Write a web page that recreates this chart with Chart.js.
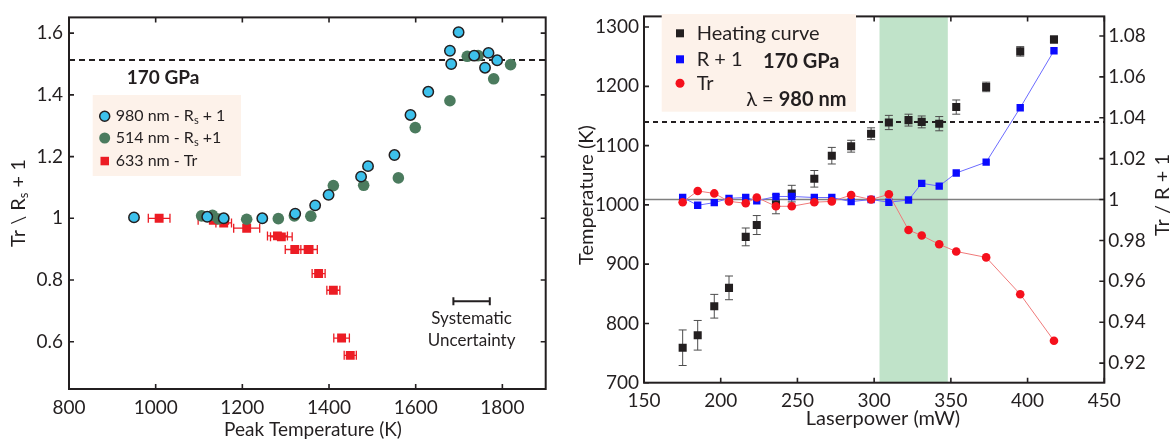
<!DOCTYPE html>
<html>
<head>
<meta charset="utf-8">
<script src="https://cdn.jsdelivr.net/npm/chart.js@4.4.0/dist/chart.umd.min.js"></script>
<style>
  body { margin: 0; background: #fff; width: 1175px; height: 444px; overflow: hidden; position: relative; }
  #left { position: absolute; left: 0; top: 0; }
  #right { position: absolute; left: 560px; top: 0; }
</style>
</head>
<body>
<canvas id="left" width="560" height="444" style="width:560px;height:444px"></canvas>
<canvas id="right" width="615" height="444" style="width:615px;height:444px"></canvas>
<script>
const FONT = "Lato, 'Liberation Sans', sans-serif";
const INK = '#231f20';
Chart.defaults.font.family = FONT;
Chart.defaults.color = INK;

// ---- left panel: reflectance / transmission vs peak temperature ----
const blueT = [950, 1119, 1157, 1246, 1322, 1368, 1399, 1474, 1490, 1551, 1588, 1629, 1679, 1682, 1699, 1735, 1760, 1768, 1788];
const blueV = [1.003, 1.005, 1.0, 1.0, 1.015, 1.042, 1.076, 1.135, 1.169, 1.205, 1.335, 1.410, 1.543, 1.500, 1.603, 1.527, 1.488, 1.536, 1.512];
const greenT = [1106, 1131, 1145, 1210, 1283, 1320, 1358, 1410, 1480, 1560, 1599, 1679, 1719, 1744, 1780, 1819];
const greenV = [1.008, 1.010, 0.998, 0.997, 0.999, 1.008, 1.007, 1.106, 1.107, 1.131, 1.294, 1.381, 1.525, 1.527, 1.452, 1.498];
const redT = [1008, 1133, 1157, 1210, 1281, 1290, 1321, 1354, 1376, 1410, 1429, 1449];
const redV = [1.0, 0.994, 0.985, 0.968, 0.943, 0.940, 0.899, 0.899, 0.821, 0.767, 0.612, 0.556];
const redErr = [25, 35, 18, 30, 23, 25, 22, 19, 15, 15, 18, 14];
const leftXTicks = [800, 1000, 1200, 1400, 1600, 1800];
const leftYTicks = [0.6, 0.8, 1, 1.2, 1.4, 1.6];
const plateau = 1.513;
const sysBar = [1687, 1771];
const sysBarY = 0.731;

// ---- right panel: heating curve vs laser power ----
const power = [175.2, 185, 195.8, 205.4, 216.3, 223.5, 236, 246.3, 261, 272.4, 285, 298, 309.6, 322.4, 331, 342.4, 353.5, 373, 395.2, 417.2];
const heat = [759, 780, 829, 860, 946, 966, 1001, 1019, 1044, 1083, 1099, 1120, 1139, 1143, 1140, 1137, 1165, 1199, 1259, 1279];
const heatErr = [30, 25, 20, 20, 15, 16, 16, 14, 14, 14, 10, 10, 12, 10, 10, 12, 12, 8, 8, 6];
const rPlus = [1.001, 0.9972, 0.9985, 1.0006, 1.001, 0.9994, 1.0015, 1.0015, 1.001, 1.001, 0.999, 1.0, 0.9987, 0.9998, 1.0079, 1.0066, 1.013, 1.0183, 1.0449, 1.0728];
const tr = [0.9987, 1.0042, 1.003, 0.9991, 0.9982, 1.001, 0.9967, 0.9967, 0.9987, 0.9991, 1.0022, 1.0, 1.0026, 0.9851, 0.9824, 0.9781, 0.9746, 0.9717, 0.9537, 0.9309];
const rightXTicks = [150, 200, 250, 300, 350, 400, 450];
const tempTicks = [700, 800, 900, 1000, 1100, 1200, 1300];
const ratioTicks = [0.92, 0.94, 0.96, 0.98, 1, 1.02, 1.04, 1.06, 1.08];
const meltT = 1140;
const band = [303.5, 348];

const CYAN = '#3dc1ec', GREEN = '#4b7b5e', RED = '#ec1c24';
const BLUE = '#0a0aff', BLUE_LINE = '#6b6bff', TR_RED = '#f5101c', TR_LINE = '#f07a7a';
const PEACH = '#fdf2ea';

function pts(xs, ys) { return xs.map((x, i) => ({ x: x, y: ys[i] })); }

function txt(ctx, s, x, y, font, align) {
  ctx.font = font;
  ctx.textAlign = align || 'center';
  ctx.textBaseline = 'middle';
  ctx.fillText(s, x, y);
}

// draws a run of text pieces (for subscripts / mixed weights), centred on x
function runs(ctx, parts, x, y, rotate) {
  ctx.save();
  ctx.translate(x, y);
  if (rotate) ctx.rotate(-Math.PI / 2);
  ctx.textBaseline = 'middle';
  ctx.textAlign = 'left';
  let w = 0;
  parts.forEach(p => { ctx.font = p.f; w += ctx.measureText(p.t).width; });
  let cx = -w / 2;
  parts.forEach(p => { ctx.font = p.f; ctx.fillText(p.t, cx, p.dy || 0); cx += ctx.measureText(p.t).width; });
  ctx.restore();
}

function drawFrame(chart, sides) {
  const { ctx, chartArea: a } = chart;
  const L = 5;
  ctx.save();
  ctx.strokeStyle = INK;
  ctx.lineWidth = 2;
  ctx.strokeRect(a.left, a.top, a.right - a.left, a.bottom - a.top);
  ctx.lineWidth = 1.6;
  ctx.beginPath();
  const x = chart.scales.x;
  x.ticks.forEach(t => {
    const p = x.getPixelForValue(t.value);
    ctx.moveTo(p, a.bottom); ctx.lineTo(p, a.bottom - L);
    ctx.moveTo(p, a.top); ctx.lineTo(p, a.top + L);
  });
  sides.forEach(([id, left, right]) => {
    const s = chart.scales[id];
    s.ticks.forEach(t => {
      const p = s.getPixelForValue(t.value);
      if (left) { ctx.moveTo(a.left, p); ctx.lineTo(a.left + L, p); }
      if (right) { ctx.moveTo(a.right, p); ctx.lineTo(a.right - L, p); }
    });
  });
  ctx.stroke();
  ctx.restore();
}

const leftDeco = {
  id: 'leftDeco',
  beforeDatasetsDraw(chart) {
    const { ctx, chartArea: a, scales: { x, y } } = chart;
    ctx.save();
    ctx.strokeStyle = INK;
    ctx.lineWidth = 2;
    ctx.setLineDash([6, 4]);
    const yp = y.getPixelForValue(plateau);
    ctx.beginPath(); ctx.moveTo(a.left, yp); ctx.lineTo(a.right, yp); ctx.stroke();
    ctx.setLineDash([]);
    // x error bars on the 633 nm points
    ctx.strokeStyle = RED;
    ctx.lineWidth = 1.3;
    ctx.beginPath();
    redT.forEach((t, i) => {
      const x0 = x.getPixelForValue(t - redErr[i]), x1 = x.getPixelForValue(t + redErr[i]);
      const yy = y.getPixelForValue(redV[i]);
      ctx.moveTo(x0, yy); ctx.lineTo(x1, yy);
      ctx.moveTo(x0, yy - 4.5); ctx.lineTo(x0, yy + 4.5);
      ctx.moveTo(x1, yy - 4.5); ctx.lineTo(x1, yy + 4.5);
    });
    ctx.stroke();
    ctx.restore();
  },
  afterDraw(chart) {
    const { ctx, scales: { x, y } } = chart;
    drawFrame(chart, [['y', true, true]]);
    ctx.save();
    ctx.fillStyle = INK;
    // systematic uncertainty bar
    const sx0 = x.getPixelForValue(sysBar[0]), sx1 = x.getPixelForValue(sysBar[1]), sy = y.getPixelForValue(sysBarY);
    ctx.strokeStyle = INK; ctx.lineWidth = 2;
    ctx.beginPath();
    ctx.moveTo(sx0, sy); ctx.lineTo(sx1, sy);
    ctx.moveTo(sx0, sy - 4); ctx.lineTo(sx0, sy + 4);
    ctx.moveTo(sx1, sy - 4); ctx.lineTo(sx1, sy + 4);
    ctx.stroke();
    txt(ctx, 'Systematic', (sx0 + sx1) / 2, sy + 17, '17px ' + FONT);
    txt(ctx, 'Uncertainty', (sx0 + sx1) / 2, sy + 39, '17px ' + FONT);
    txt(ctx, '170 GPa', 163, 77.5, 'bold 19px ' + FONT);
    // legend
    ctx.fillStyle = PEACH;
    ctx.fillRect(92.7, 95, 148.3, 81);
    ctx.fillStyle = CYAN; ctx.strokeStyle = INK; ctx.lineWidth = 1.5;
    ctx.beginPath(); ctx.arc(104.7, 116.3, 5, 0, Math.PI * 2); ctx.fill(); ctx.stroke();
    ctx.fillStyle = GREEN;
    ctx.beginPath(); ctx.arc(104.7, 138, 5.5, 0, Math.PI * 2); ctx.fill();
    ctx.fillStyle = RED;
    ctx.fillRect(100.5, 156.8, 8.5, 8.5);
    ctx.fillStyle = INK;
    const f = '16px ' + FONT, fs = '11px ' + FONT;
    ctx.textAlign = 'left'; ctx.textBaseline = 'middle';
    [[['980 nm - R', f], ['s', fs, 4], [' + 1', f]], [['514 nm - R', f], ['s', fs, 4], [' +1', f]], [['633 nm - Tr', f]]]
      .forEach((parts, i) => {
        let cx = 115.7;
        const cy = [116.3, 138, 161][i];
        parts.forEach(([t, ff, dy]) => { ctx.font = ff; ctx.fillText(t, cx, cy + (dy || 0)); cx += ctx.measureText(t).width; });
      });
    // axis titles
    txt(ctx, 'Peak Temperature (K)', 313, 430, '19px ' + FONT);
    runs(ctx, [{ t: 'Tr \\ R', f: '20px ' + FONT }, { t: 's', f: '13px ' + FONT, dy: 5 }, { t: ' + 1', f: '20px ' + FONT }], 19, 203, true);
    ctx.restore();
  }
};

const rightDeco = {
  id: 'rightDeco',
  beforeDatasetsDraw(chart) {
    const { ctx, chartArea: a, scales: { x, y, y2 } } = chart;
    ctx.save();
    // shaded power window
    const b0 = x.getPixelForValue(band[0]), b1 = x.getPixelForValue(band[1]);
    ctx.fillStyle = '#c0e3c9';
    ctx.fillRect(b0, a.top, b1 - b0, a.bottom - a.top);
    // unity reference line
    const u = y2.getPixelForValue(1);
    ctx.strokeStyle = '#7f7f7f'; ctx.lineWidth = 1.5;
    ctx.beginPath(); ctx.moveTo(a.left, u); ctx.lineTo(a.right, u); ctx.stroke();
    // plateau temperature
    const m = y.getPixelForValue(meltT);
    ctx.strokeStyle = INK; ctx.lineWidth = 2; ctx.setLineDash([5, 4]);
    ctx.beginPath(); ctx.moveTo(a.left, m); ctx.lineTo(a.right, m); ctx.stroke();
    ctx.setLineDash([]);
    // error bars on the heating curve
    ctx.strokeStyle = '#4d4d4d'; ctx.lineWidth = 1;
    ctx.beginPath();
    power.forEach((p, i) => {
      const px = x.getPixelForValue(p);
      const lo = y.getPixelForValue(heat[i] - heatErr[i]), hi = y.getPixelForValue(heat[i] + heatErr[i]);
      ctx.moveTo(px, lo); ctx.lineTo(px, hi);
      ctx.moveTo(px - 4, lo); ctx.lineTo(px + 4, lo);
      ctx.moveTo(px - 4, hi); ctx.lineTo(px + 4, hi);
    });
    ctx.stroke();
    ctx.restore();
  },
  afterDraw(chart) {
    const { ctx } = chart;
    drawFrame(chart, [['y', true, false], ['y2', false, true]]);
    ctx.save();
    // legend
    ctx.fillStyle = PEACH;
    ctx.fillRect(101.7, 14, 194.3, 97.7);
    ctx.fillStyle = INK;
    ctx.fillRect(116, 29.3, 8, 8);
    ctx.fillStyle = BLUE;
    ctx.fillRect(116, 55.3, 8, 8);
    ctx.fillStyle = TR_RED;
    ctx.beginPath(); ctx.arc(120, 83.3, 4.5, 0, Math.PI * 2); ctx.fill();
    ctx.fillStyle = INK;
    txt(ctx, 'Heating curve', 136.7, 33.3, '20px ' + FONT, 'left');
    txt(ctx, 'R + 1', 136.7, 59.3, '20px ' + FONT, 'left');
    txt(ctx, 'Tr', 136.7, 83.3, '20px ' + FONT, 'left');
    txt(ctx, '170 GPa', 241.3, 61.7, 'bold 20px ' + FONT);
    runs(ctx, [{ t: '\u03bb = ', f: '20px ' + FONT }, { t: '980 nm', f: 'bold 20px ' + FONT }], 236.3, 100);
    // axis titles
    txt(ctx, 'Laserpower (mW)', 323, 419, '20px ' + FONT);
    runs(ctx, [{ t: 'Temperature (K)', f: '20px ' + FONT }], 27, 195, true);
    runs(ctx, [{ t: 'Tr / R + 1', f: '20px ' + FONT }], 603, 195, true);
    ctx.restore();
  }
};

function axis(ticks, min, max, pad, extra) {
  return Object.assign({
    type: 'linear', min: min, max: max,
    grid: { display: false, drawTicks: false },
    border: { display: false },
    afterBuildTicks: s => { s.ticks = ticks.map(v => ({ value: v })); },
    ticks: { font: { size: 19 }, color: INK, padding: pad, maxRotation: 0, callback: v => String(v) }
  }, extra);
}

new Chart(document.getElementById('left'), {
  type: 'scatter',
  data: {
    datasets: [
      { label: '980 nm - Rs + 1', data: pts(blueT, blueV), pointStyle: 'circle', pointRadius: 5.2,
        pointBackgroundColor: CYAN, pointBorderColor: INK, pointBorderWidth: 1.5 },
      { label: '514 nm - Rs +1', data: pts(greenT, greenV), pointStyle: 'circle', pointRadius: 5.8,
        pointBackgroundColor: GREEN, pointBorderWidth: 0 },
      { label: '633 nm - Tr', data: pts(redT, redV), pointStyle: 'rect', pointRadius: 6.3,
        pointBackgroundColor: RED, pointBorderWidth: 0 }
    ]
  },
  options: {
    responsive: false, animation: false, events: [],
    layout: { padding: { top: 13, right: 14.3, left: 0, bottom: 0 } },
    plugins: { legend: { display: false }, tooltip: { enabled: false } },
    scales: {
      x: axis(leftXTicks, 800, 1900, 7, { afterFit: s => { s.height = 55; } }),
      y: axis(leftYTicks, 0.447, 1.651, 6, { afterFit: s => { s.width = 69; } })
    }
  },
  plugins: [leftDeco]
});

new Chart(document.getElementById('right'), {
  type: 'scatter',
  data: {
    datasets: [
      { label: 'Tr', data: pts(power, tr), yAxisID: 'y2', showLine: true, borderColor: TR_LINE, borderWidth: 1,
        pointStyle: 'circle', pointRadius: 4.3, pointBackgroundColor: TR_RED, pointBorderWidth: 0 },
      { label: 'R + 1', data: pts(power, rPlus), yAxisID: 'y2', showLine: true, borderColor: BLUE_LINE, borderWidth: 1,
        pointStyle: 'rect', pointRadius: 5.2, pointBackgroundColor: BLUE, pointBorderWidth: 0 },
      { label: 'Heating curve', data: pts(power, heat), yAxisID: 'y', showLine: false,
        pointStyle: 'rect', pointRadius: 5.7, pointBackgroundColor: INK, pointBorderWidth: 0 }
    ]
  },
  options: {
    responsive: false, animation: false, events: [],
    layout: { padding: { top: 8.3, right: 0, left: 0, bottom: 0 } },
    plugins: { legend: { display: false }, tooltip: { enabled: false } },
    scales: {
      x: axis(rightXTicks, 150, 450, 7, { afterFit: s => { s.height = 61.3; } }),
      y: axis(tempTicks, 700, 1318, 5, { position: 'left', afterFit: s => { s.width = 84; } }),
      y2: axis(ratioTicks, 0.9104, 1.0896, 4, { position: 'right', afterFit: s => { s.width = 70.7; } })
    }
  },
  plugins: [rightDeco]
});
</script>
</body>
</html>
